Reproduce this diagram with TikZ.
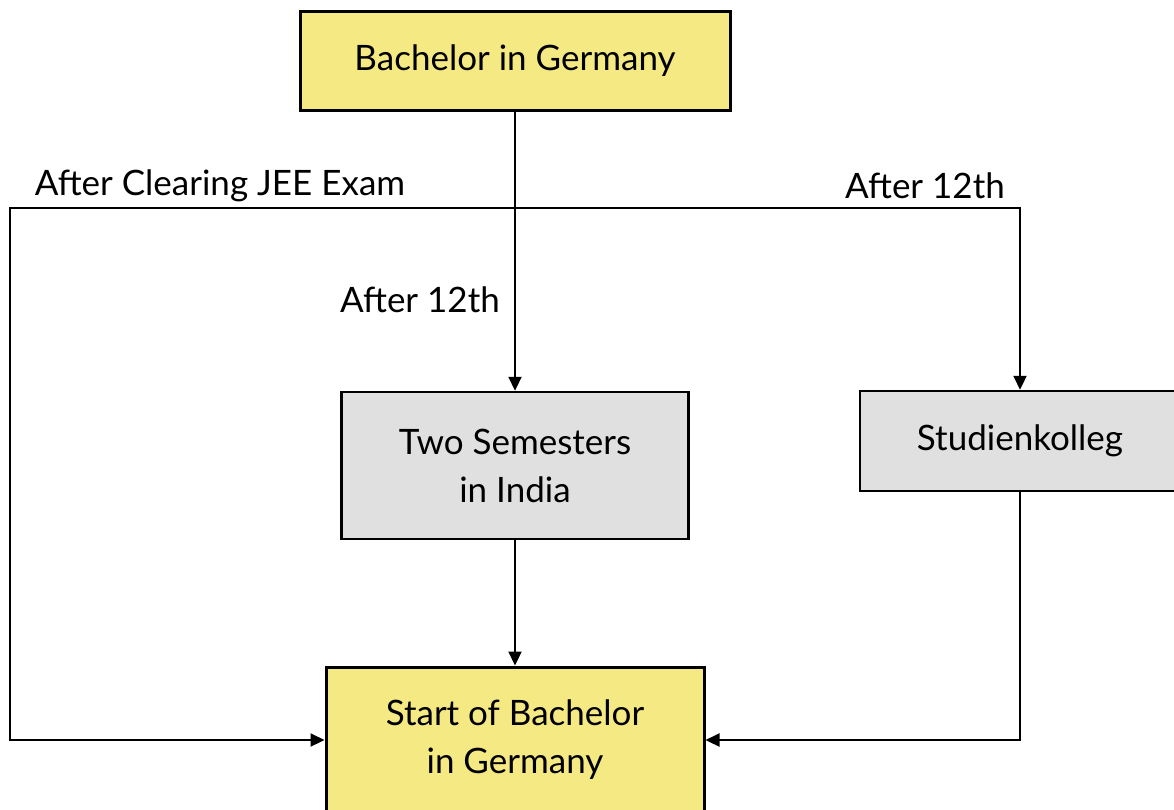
\documentclass[tikz,border=0pt]{standalone}
\usepackage{fontspec}
\setmainfont{Lato}
\usepackage{tikz}
\usetikzlibrary{positioning, arrows.meta}
\definecolor{boxyellow}{HTML}{F5E984}
\definecolor{boxgray}{HTML}{E0E0E0}

\begin{document}
\begin{tikzpicture}[x=1pt, y=-1pt, every node/.style={font=\fontsize{35}{48}\selectfont}]
  \tikzstyle{goal} = [rectangle, align=center, draw=black, line width=3pt, fill=boxyellow]
  \tikzstyle{stage} = [rectangle, align=center, draw=black, line width=2.5pt, fill=boxgray]
  \tikzstyle{arrow} = [line width=2.2pt, -{Triangle[length=14pt, width=13pt]}]
  \useasboundingbox (0,0) rectangle (1174,809);

  \node (bachelor) [goal, minimum width=430pt, minimum height=99pt] at (515,60.5) {Bachelor in Germany};
  \node (semesters) [stage, minimum width=347pt, minimum height=147pt] at (515,465.5) {Two Semesters\\in India};
  \node (kolleg) [stage, minimum width=320pt, minimum height=100pt] at (1020,441) {Studienkolleg};
  \node (start) [goal, minimum width=378pt, minimum height=146pt] at (515,740) {Start of Bachelor\\in Germany};

  \node (jee) at (220,186) {After Clearing JEE Exam};
  \node (twelfthR) at (925,186) {After 12th};
  \node (twelfthM) at (420,300) {After 12th};

  \coordinate (fork) at (515,208);
  \coordinate (left) at (10,208);

  \draw [arrow] (bachelor) -- (semesters);
  \draw [arrow] (fork) -- (left) |- (start.west);
  \draw [arrow] (fork) -| (kolleg.north);
  \draw [arrow] (semesters) -- (start);
  \draw [arrow] (kolleg.south) |- (start.east);
\end{tikzpicture}
\end{document}
